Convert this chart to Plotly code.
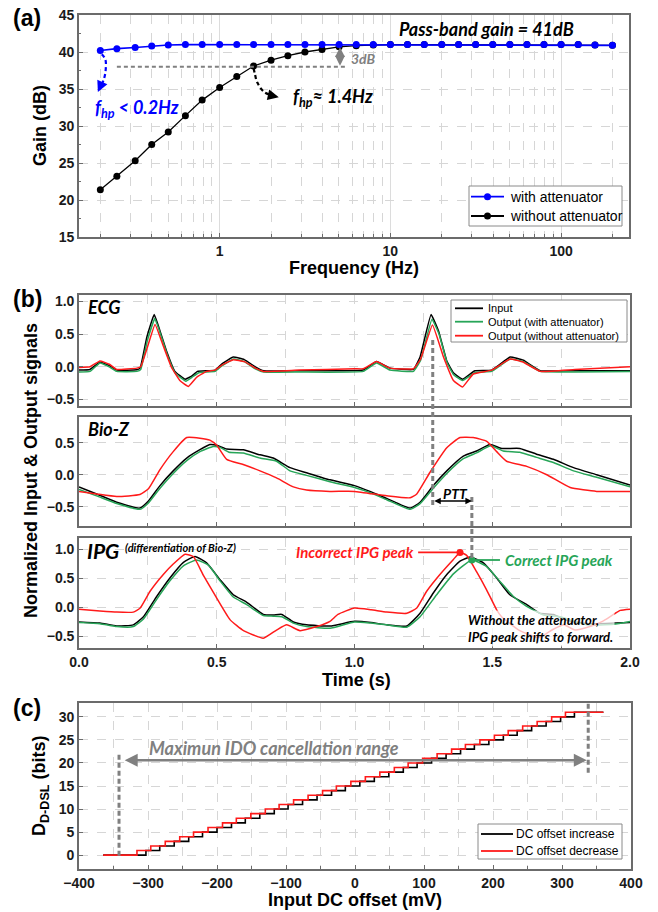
import math
import plotly.graph_objects as go

# ---------------- (a) frequency response ----------------
freq_hz = [0.2, 0.25, 0.32, 0.4, 0.5, 0.63, 0.79, 1, 1.26, 1.58, 2, 2.51, 3.16, 3.98,
           5.01, 6.31, 7.94, 10, 12.6, 15.8, 20, 25.1, 31.6, 39.8, 50.1, 63.1, 79.4,
           100, 126, 158, 200]
gain_with_att = [40.2, 40.45, 40.6, 40.8, 40.95, 41.0, 41.0, 41.0, 41.0, 41.0, 41.0,
                 41.0, 41.0, 41.0, 41.0, 41.0, 41.0, 41.0, 41.0, 41.0, 41.0, 41.0,
                 41.0, 41.0, 41.0, 41.0, 41.0, 41.0, 41.0, 40.95, 40.9]
gain_without_att = [21.4, 23.2, 25.3, 27.5, 29.2, 31.4, 33.5, 35.2, 36.7, 38.1, 38.9,
                    39.5, 40.0, 40.35, 40.7, 40.85, 40.95, 41.0, 41.0, 41.0, 41.0, 41.0,
                    41.0, 41.0, 41.0, 41.0, 41.0, 41.0, 41.0, 40.95, 40.9]
PASSBAND_GAIN = 41
DROP_DB = 3

# ---------------- (b) ECG / Bio-Z / IPG ----------------
ecg_in_t = [0.0, 0.04, 0.076, 0.11, 0.137, 0.21, 0.222, 0.246, 0.273, 0.294, 0.318, 0.348,
            0.385, 0.41, 0.43, 0.494, 0.52, 0.56, 0.60, 0.64, 0.67, 0.8, 0.95, 1.032, 1.08,
            1.129, 1.214, 1.238, 1.278, 1.305, 1.335, 1.359, 1.392, 1.437, 1.498, 1.565,
            1.613, 1.674, 1.8, 2.0]
ecg_in_v = [-0.05, -0.04, 0.07, 0.02, -0.05, -0.045, -0.02, 0.45, 0.80, 0.55, 0.24, -0.07,
            -0.19, -0.14, -0.07, -0.05, 0.05, 0.15, 0.11, 0.0, -0.06, -0.06, -0.06, -0.05,
            0.08, -0.02, -0.04, 0.15, 0.80, 0.55, 0.09, -0.09, -0.19, -0.06, -0.05, 0.15,
            0.10, -0.06, -0.06, -0.06]
ecg_att_t = [0.0, 0.04, 0.076, 0.11, 0.137, 0.21, 0.224, 0.248, 0.275, 0.296, 0.32, 0.35,
             0.388, 0.41, 0.435, 0.494, 0.52, 0.562, 0.60, 0.64, 0.67, 0.8, 1.032, 1.08,
             1.129, 1.214, 1.24, 1.281, 1.307, 1.337, 1.36, 1.392, 1.437, 1.498, 1.565,
             1.613, 1.674, 1.8, 2.0]
ecg_att_v = [-0.08, -0.07, 0.06, 0.0, -0.07, -0.07, -0.04, 0.40, 0.74, 0.50, 0.19, -0.10,
             -0.22, -0.16, -0.09, -0.07, 0.02, 0.12, 0.08, -0.03, -0.08, -0.08, -0.07, 0.06,
             -0.05, -0.07, 0.10, 0.73, 0.50, 0.05, -0.12, -0.21, -0.09, -0.07, 0.12, 0.08,
             -0.07, -0.08, -0.07]
ecg_noatt_t = [0.0, 0.04, 0.076, 0.11, 0.137, 0.21, 0.224, 0.246, 0.276, 0.306, 0.336,
               0.366, 0.397, 0.427, 0.463, 0.494, 0.52, 0.56, 0.60, 0.64, 0.67, 0.8, 1.0,
               1.032, 1.08, 1.129, 1.214, 1.24, 1.283, 1.323, 1.359, 1.392, 1.431, 1.498,
               1.565, 1.613, 1.674, 1.8, 2.0]
ecg_noatt_v = [-0.01, 0.0, 0.09, 0.04, -0.04, -0.02, 0.0, 0.27, 0.65, 0.32, -0.01, -0.21,
               -0.30, -0.16, -0.07, -0.05, 0.03, 0.11, 0.08, -0.02, -0.07, -0.05, -0.03,
               -0.03, 0.08, -0.02, -0.03, 0.12, 0.64, 0.15, -0.21, -0.31, -0.11, -0.05,
               0.12, 0.07, -0.07, -0.04, 0.0]

bioz_in_t = [0.0, 0.064, 0.137, 0.221, 0.252, 0.294, 0.342, 0.391, 0.439, 0.475, 0.5, 0.536,
             0.596, 0.657, 0.705, 0.766, 0.826, 0.911, 1.0, 1.056, 1.117, 1.202, 1.238,
             1.286, 1.335, 1.395, 1.443, 1.492, 1.534, 1.6, 1.661, 1.722, 1.795, 1.879, 2.0]
bioz_in_v = [-0.19, -0.30, -0.43, -0.52, -0.41, -0.17, 0.06, 0.26, 0.39, 0.47, 0.46, 0.40,
             0.39, 0.31, 0.26, 0.11, 0.03, -0.08, -0.17, -0.26, -0.37, -0.52, -0.43, -0.17,
             0.06, 0.29, 0.37, 0.47, 0.41, 0.41, 0.32, 0.24, 0.11, 0.0, -0.16]
bioz_att_t = [0.0, 0.064, 0.137, 0.221, 0.252, 0.294, 0.342, 0.391, 0.439, 0.487, 0.51, 0.545,
              0.596, 0.657, 0.717, 0.766, 0.826, 0.911, 1.0, 1.056, 1.117, 1.202, 1.238,
              1.286, 1.335, 1.395, 1.443, 1.495, 1.54, 1.6, 1.661, 1.722, 1.795, 1.879, 2.0]
bioz_att_v = [-0.23, -0.33, -0.45, -0.54, -0.44, -0.21, 0.02, 0.22, 0.36, 0.44, 0.43, 0.35,
              0.34, 0.26, 0.21, 0.06, -0.01, -0.11, -0.20, -0.28, -0.39, -0.54, -0.45, -0.21,
              0.02, 0.25, 0.34, 0.45, 0.37, 0.35, 0.27, 0.19, 0.06, -0.04, -0.19]
bioz_noatt_t = [0.0, 0.064, 0.137, 0.221, 0.252, 0.294, 0.342, 0.391, 0.439, 0.475, 0.5,
                0.536, 0.596, 0.657, 0.717, 0.778, 0.826, 0.911, 1.0, 1.117, 1.202, 1.226,
                1.273, 1.335, 1.383, 1.431, 1.48, 1.516, 1.552, 1.625, 1.698, 1.783, 1.879, 2.0]
bioz_noatt_v = [-0.26, -0.30, -0.34, -0.31, -0.22, 0.08, 0.36, 0.58, 0.57, 0.54, 0.46, 0.24,
                0.16, 0.06, -0.05, -0.19, -0.24, -0.26, -0.26, -0.33, -0.36, -0.30, 0.03,
                0.42, 0.58, 0.58, 0.52, 0.36, 0.21, 0.13, 0.0, -0.20, -0.26, -0.26]

ipg_in_t = [0.0, 0.076, 0.137, 0.197, 0.234, 0.282, 0.33, 0.379, 0.421, 0.463, 0.512, 0.56,
            0.609, 0.669, 0.705, 0.736, 0.778, 0.826, 0.911, 1.0, 1.06, 1.117, 1.19, 1.238,
            1.286, 1.335, 1.383, 1.42, 1.468, 1.516, 1.564, 1.625, 1.673, 1.722, 1.77, 1.85,
            2.0]
ipg_in_v = [-0.25, -0.27, -0.32, -0.30, -0.16, 0.19, 0.51, 0.78, 0.88, 0.77, 0.48, 0.22,
            0.09, -0.12, -0.13, -0.12, -0.25, -0.30, -0.32, -0.24, -0.26, -0.30, -0.32,
            -0.10, 0.25, 0.57, 0.80, 0.87, 0.77, 0.51, 0.22, 0.05, -0.10, -0.12, -0.22,
            -0.28, -0.26]
ipg_att_t = [0.0, 0.076, 0.137, 0.197, 0.234, 0.282, 0.33, 0.379, 0.427, 0.47, 0.512, 0.56,
             0.609, 0.669, 0.705, 0.736, 0.778, 0.826, 0.911, 1.0, 1.06, 1.117, 1.19, 1.238,
             1.298, 1.359, 1.426, 1.479, 1.528, 1.577, 1.625, 1.686, 1.746, 1.843, 1.94, 2.0]
ipg_att_v = [-0.26, -0.28, -0.33, -0.33, -0.20, 0.14, 0.46, 0.72, 0.82, 0.73, 0.46, 0.18,
             0.05, -0.14, -0.15, -0.16, -0.27, -0.33, -0.36, -0.25, -0.27, -0.30, -0.34,
             -0.16, 0.22, 0.58, 0.82, 0.71, 0.45, 0.19, 0.02, -0.13, -0.16, -0.30, -0.29,
             -0.24]
ipg_noatt_t = [0.0, 0.076, 0.137, 0.197, 0.222, 0.258, 0.306, 0.342, 0.385, 0.415, 0.451,
               0.5, 0.548, 0.597, 0.669, 0.717, 0.754, 0.802, 0.863, 0.911, 0.94, 1.0, 1.06,
               1.117, 1.19, 1.226, 1.262, 1.31, 1.359, 1.383, 1.407, 1.443, 1.479, 1.516,
               1.534, 1.6, 1.67, 1.72, 1.76, 1.8, 1.86, 1.9, 1.94, 1.965, 2.0]
ipg_noatt_v = [-0.03, -0.06, -0.08, -0.08, -0.01, 0.28, 0.57, 0.75, 0.92, 0.88, 0.56, 0.16,
               -0.21, -0.40, -0.53, -0.39, -0.30, -0.40, -0.33, -0.24, -0.12, -0.01, -0.04,
               -0.08, -0.10, -0.01, 0.28, 0.57, 0.83, 0.95, 0.90, 0.62, 0.31, -0.04, -0.16,
               -0.40, -0.52, -0.38, -0.30, -0.39, -0.32, -0.24, -0.12, -0.05, -0.03]

ecg_r_peak_t = 1.284      # ECG R-peak time used for the PTT marker
ipg_peak_t = 1.426        # corrected IPG peak time

# ---------------- (c) DC offset staircase ----------------
code_levels = [0, 1, 2, 3, 4, 5, 6, 7, 8, 9, 10, 11, 12, 13, 14, 15, 16, 17, 18, 19, 20,
               21, 22, 23, 24, 25, 26, 27, 28, 29, 30, 31]
steps_increase_mv = [-303, -283, -262, -241, -221, -200, -179, -159, -138, -117, -97, -76,
                     -55, -34, -14, 7, 28, 49, 70, 90, 111, 132, 153, 173, 194, 215, 235,
                     256, 277, 298, 318]
steps_decrease_mv = [-316, -296, -275, -254, -234, -213, -192, -172, -151, -130, -110, -89,
                     -68, -47, -27, -6, 15, 36, 57, 77, 98, 119, 140, 160, 181, 202, 222,
                     243, 264, 285, 305]
sweep_start_mv, sweep_end_mv = -365, 360
ido_range_mv = (-342, 338)

# ---------------- styling ----------------
W, H = 658, 912
BLUE, BLACK, GREEN, RED, GRAY = '#0000ff', '#000000', '#27a558', '#ff1a1a', '#808080'
FRAME = '#6b6b6b'
GRID = '#d6d6d6'
TICKFONT = dict(family='Liberation Sans', size=14, color='#1a1a1a', weight='bold')
ITAL = 'Lato'


def px(x):
    return x / W


def py(y):
    return 1 - y / H


def axis(**kw):
    d = dict(showline=True, mirror=True, linecolor=FRAME, linewidth=1.6, zeroline=False,
             ticks='inside', tickcolor=FRAME, ticklen=4, tickwidth=1.2, tickfont=TICKFONT,
             showgrid=True, gridcolor=GRID, griddash='dash', gridwidth=1, automargin=False)
    d.update(kw)
    return d


fig = go.Figure()

# (a)
fig.add_trace(go.Scatter(x=freq_hz, y=gain_without_att, mode='lines+markers',
                         name='without attenuator', line=dict(color=BLACK, width=1.3),
                         marker=dict(color=BLACK, size=7), xaxis='x', yaxis='y'))
fig.add_trace(go.Scatter(x=freq_hz, y=gain_with_att, mode='lines+markers',
                         name='with attenuator', line=dict(color=BLUE, width=1.6),
                         marker=dict(color=BLUE, size=7), xaxis='x', yaxis='y'))

cut_idx = 9
f_cut = freq_hz[cut_idx]
fig.add_trace(go.Scatter(x=[0.25, 5.5], y=[PASSBAND_GAIN - DROP_DB] * 2, mode='lines',
                         line=dict(color=GRAY, width=2, dash='4px,3px'),
                         xaxis='x', yaxis='y', hoverinfo='skip'))
# curved pointer arrows
fig.add_trace(go.Scatter(x=[0.204, 0.214, 0.215, 0.209, 0.196], y=[39.7, 39.0, 37.6, 36.2, 34.9],
                         mode='lines', line=dict(color=BLUE, width=2.2, dash='4px,3px', shape='spline'),
                         xaxis='x', yaxis='y', hoverinfo='skip'))
fig.add_trace(go.Scatter(x=[f_cut, 1.61, 1.66, 1.82, 2.15], y=[37.8, 37.0, 35.9, 34.6, 34.0],
                         mode='lines', line=dict(color=BLACK, width=2.2, dash='4px,3px', shape='spline'),
                         xaxis='x', yaxis='y', hoverinfo='skip'))

# (b)
panels_b = [
    ('x2', 'y2', 0.3, (ecg_in_t, ecg_in_v), (ecg_att_t, ecg_att_v), (ecg_noatt_t, ecg_noatt_v)),
    ('x3', 'y3', 0.45, (bioz_in_t, bioz_in_v), (bioz_att_t, bioz_att_v), (bioz_noatt_t, bioz_noatt_v)),
    ('x4', 'y4', 0.45, (ipg_in_t, ipg_in_v), (ipg_att_t, ipg_att_v), (ipg_noatt_t, ipg_noatt_v)),
]
names = ['Input', 'Output (with attenuator)', 'Output (without attenuator)']
colors = [BLACK, GREEN, RED]
for xa, ya, smooth, *series in panels_b:
    for j, (t, v) in enumerate(series):
        fig.add_trace(go.Scatter(x=t, y=v, mode='lines', name=names[j],
                                 line=dict(color=colors[j], width=1.5, shape='spline',
                                           smoothing=smooth),
                                 xaxis=xa, yaxis=ya, hoverinfo='skip'))

# IPG peak markers taken from the IPG series
sec = [i for i, t in enumerate(ipg_noatt_t) if t > 1.0]
i_red = max(sec, key=lambda i: ipg_noatt_v[i])
red_pk = (ipg_noatt_t[i_red], ipg_noatt_v[i_red])
sec = [i for i, t in enumerate(ipg_att_t) if t > 1.0]
i_grn = max(sec, key=lambda i: ipg_att_v[i])
grn_pk = (ipg_att_t[i_grn], ipg_att_v[i_grn])
fig.add_trace(go.Scatter(x=[1.231, red_pk[0]], y=[red_pk[1]] * 2, mode='lines',
                         line=dict(color=RED, width=1.8), xaxis='x4', yaxis='y4',
                         hoverinfo='skip'))
fig.add_trace(go.Scatter(x=[grn_pk[0], 1.528], y=[grn_pk[1]] * 2, mode='lines',
                         line=dict(color=GREEN, width=1.8), xaxis='x4', yaxis='y4',
                         hoverinfo='skip'))
fig.add_trace(go.Scatter(x=[red_pk[0]], y=[red_pk[1]], mode='markers',
                         marker=dict(color=RED, size=7), xaxis='x4', yaxis='y4',
                         hoverinfo='skip'))
fig.add_trace(go.Scatter(x=[grn_pk[0]], y=[grn_pk[1]], mode='markers',
                         marker=dict(color=GREEN, size=7), xaxis='x4', yaxis='y4',
                         hoverinfo='skip'))

# (c)
x_inc = [sweep_start_mv] + steps_increase_mv + [sweep_end_mv]
y_inc = code_levels + [code_levels[-1]]
x_dec = [sweep_start_mv] + steps_decrease_mv + [sweep_end_mv]
y_dec = code_levels + [code_levels[-1]]
fig.add_trace(go.Scatter(x=x_inc, y=y_inc, mode='lines', name='DC offset increase',
                         line=dict(color=BLACK, width=1.6, shape='hv'), xaxis='x5', yaxis='y5',
                         hoverinfo='skip'))
fig.add_trace(go.Scatter(x=x_dec, y=y_dec, mode='lines', name='DC offset decrease',
                         line=dict(color=RED, width=1.6, shape='hv'), xaxis='x5', yaxis='y5',
                         hoverinfo='skip'))

# ---------------- axes ----------------
xb = [px(79), px(630)]
minor_log = [0.2, 0.3, 0.4, 0.5, 0.6, 0.7, 0.8, 0.9, 2, 3, 4, 5, 6, 7, 8, 9,
             20, 30, 40, 50, 60, 70, 80, 90, 200]
layout_axes = dict(
    xaxis=axis(domain=[px(79), px(629)], anchor='y', type='log',
               range=[math.log10(0.15), math.log10(250)], tickvals=[1, 10, 100],
               ticktext=['1', '10', '100'], griddash='solid', gridcolor='#dcdcdc',
               minor=dict(tickvals=minor_log, showgrid=True, gridcolor=GRID, griddash='dash',
                          ticks='inside', ticklen=3, tickcolor=FRAME)),
    yaxis=axis(domain=[py(237), py(15)], anchor='x', range=[15, 45], dtick=5,
               minor=dict(dtick=2.5, ticks='inside', ticklen=2.5, tickcolor=FRAME, showgrid=False)),
    xaxis2=axis(domain=xb, anchor='y2', range=[0, 2], dtick=0.5, showticklabels=False,
                minor=dict(dtick=0.25, showgrid=True, gridcolor=GRID, griddash='dash',
                           ticks='inside', ticklen=3, tickcolor=FRAME)),
    yaxis2=axis(domain=[py(406), py(295)], anchor='x2', range=[-0.6, 1.1], dtick=0.5,
                tickformat='.1f'),
    xaxis3=axis(domain=xb, anchor='y3', range=[0, 2], dtick=0.5, showticklabels=False,
                minor=dict(dtick=0.25, showgrid=True, gridcolor=GRID, griddash='dash',
                           ticks='inside', ticklen=3, tickcolor=FRAME)),
    yaxis3=axis(domain=[py(526), py(417)], anchor='x3', range=[-0.8, 0.9], dtick=0.5,
                tickformat='.1f'),
    xaxis4=axis(domain=xb, anchor='y4', range=[0, 2], dtick=0.5, tickformat='.1f',
                minor=dict(dtick=0.25, showgrid=True, gridcolor=GRID, griddash='dash',
                           ticks='inside', ticklen=3, tickcolor=FRAME)),
    yaxis4=axis(domain=[py(648), py(538)], anchor='x4', range=[-0.7, 1.2], dtick=0.5,
                tickformat='.1f'),
    xaxis5=axis(domain=[px(79), px(631)], anchor='y5', range=[-400, 400], dtick=100,
                minor=dict(dtick=50, showgrid=True, gridcolor=GRID, griddash='dash',
                           ticks='inside', ticklen=3, tickcolor=FRAME)),
    yaxis5=axis(domain=[py(869), py(703)], anchor='x5', range=[-3, 33], dtick=5),
)

# ---------------- annotations & shapes ----------------
ann = []
shapes = []


def text(xp, yp, s, size, color=BLACK, bold=True, italic=False, family='Liberation Sans',
         angle=0, xanchor='center', **kw):
    f = dict(family=family, size=size, color=color)
    if bold:
        f['weight'] = 'bold'
    if italic:
        f['style'] = 'italic'
    d = dict(x=px(xp), y=py(yp), xref='paper', yref='paper', text=s, showarrow=False,
             font=f, textangle=angle, xanchor=xanchor, yanchor='middle')
    d.update(kw)
    ann.append(d)


def legend_box(x0, y0, x1, y1, rows, line_x0, line_x1, text_x, size, marker=False):
    """Framed key drawn with paper-space shapes; rows = (y, colour, label)."""
    shapes.append(dict(type='rect', xref='paper', yref='paper', x0=px(x0), x1=px(x1),
                       y0=py(y1), y1=py(y0), line=dict(color='#8a8a8a', width=1),
                       fillcolor='white', layer='above'))
    for yr, col, label in rows:
        shapes.append(dict(type='line', xref='paper', yref='paper', x0=px(line_x0),
                           x1=px(line_x1), y0=py(yr), y1=py(yr),
                           line=dict(color=col, width=1.8), layer='above'))
        if marker:
            xm = (line_x0 + line_x1) / 2
            shapes.append(dict(type='circle', xref='paper', yref='paper', x0=px(xm - 3.5),
                               x1=px(xm + 3.5), y0=py(yr + 3.5), y1=py(yr - 3.5),
                               fillcolor=col, line=dict(color=col, width=0), layer='above'))
        text(text_x, yr, label, size, bold=False, xanchor='left')


# panel tags
text(27, 18, '(a)', 23)
text(27, 299, '(b)', 23)
text(27, 708, '(c)', 23)
# axis titles
text(40, 126, 'Gain (dB)', 18, angle=-90)
text(354, 268, 'Frequency (Hz)', 18)
text(31, 471, 'Normalized Input &amp; Output signals', 18, angle=-90)
text(356, 680, 'Time (s)', 18)
text(40, 786, 'D<sub>D-DSL</sub> (bits)', 18, angle=-90)
text(355, 900, 'Input DC offset (mV)', 18)

# keys
legend_box(469, 186, 622, 226, [(196.7, BLUE, 'with attenuator'),
                                (216, BLACK, 'without attenuator')],
           471, 504, 508, 14, marker=True)
legend_box(451, 300, 627, 342, [(308.3, BLACK, names[0]), (321.7, GREEN, names[1]),
                                (335.7, RED, names[2])],
           455, 483, 486, 11)
legend_box(478, 824, 622, 859, [(834, BLACK, 'DC offset increase'),
                                (851, RED, 'DC offset decrease')],
           481, 513, 514, 12)

# (a) call-outs
text(487, 29, f'Pass-band gain = {PASSBAND_GAIN}dB', 18, family=ITAL, italic=True)
text(137, 108, '<i>f</i><sub>hp</sub> &lt; 0.2Hz', 18, color=BLUE, family=ITAL, italic=True)
text(333, 98, '<i>f</i><sub>hp</sub>≈ 1.4Hz', 18, family=ITAL, italic=True)
text(349, 58, f'{DROP_DB}dB', 14, color=GRAY, family=ITAL, italic=True, xanchor='left')
x3db = math.log10(5.07)
ann.append(dict(x=x3db, y=PASSBAND_GAIN - DROP_DB + 0.15, ax=x3db, ay=PASSBAND_GAIN - 0.15,
                xref='x', yref='y', axref='x', ayref='y', text='', showarrow=True,
                arrowside='end+start', arrowhead=2, arrowsize=0.9, arrowwidth=2.2,
                arrowcolor=GRAY))
ann.append(dict(x=math.log10(0.1935), y=34.6, ax=4, ay=-9, xref='x', yref='y', text='',
                showarrow=True, arrowhead=2, arrowsize=1, arrowwidth=2.2, arrowcolor=BLUE))
ann.append(dict(x=math.log10(2.22), y=33.9, ax=-9, ay=-2, xref='x', yref='y', text='',
                showarrow=True, arrowhead=2, arrowsize=1, arrowwidth=2.2, arrowcolor=BLACK))

# (b) labels
text(86, 307, 'ECG', 18, family=ITAL, italic=True, xanchor='left')
text(86, 429, 'Bio-Z', 18, family=ITAL, italic=True, xanchor='left')
text(85, 550, 'IPG', 21, family=ITAL, italic=True, xanchor='left')
text(123, 547, '(differentiation of Bio-Z)', 11, family=ITAL, italic=True, xanchor='left')
text(455, 493, 'PTT', 14, family=ITAL, italic=True)
ann.append(dict(x=ipg_peak_t, y=-0.41, ax=ecg_r_peak_t, ay=-0.41, xref='x3', yref='y3',
                axref='x3', ayref='y3', text='', showarrow=True, arrowside='end+start',
                arrowhead=2, arrowsize=1, arrowwidth=1.3, arrowcolor=BLACK))
ann.append(dict(x=1.223, y=red_pk[1], xref='x4', yref='y4', text='Incorrect IPG peak',
                showarrow=False, xanchor='right', yanchor='middle',
                font=dict(family=ITAL, size=15, color=RED, weight='bold', style='italic')))
ann.append(dict(x=1.54, y=grn_pk[1], xref='x4', yref='y4', text='Correct IPG peak',
                showarrow=False, xanchor='left', yanchor='middle',
                font=dict(family=ITAL, size=15, color=GREEN, weight='bold', style='italic')))
ann.append(dict(x=px(540), y=py(628), xref='paper', yref='paper',
                text='Without the attenuator,<br>IPG peak shifts to forward.',
                showarrow=False, xanchor='center', yanchor='middle', align='left',
                bgcolor='rgba(255,255,255,0.72)', borderpad=1,
                font=dict(family=ITAL, size=13, color=BLACK, weight='bold', style='italic')))

# (c) range arrow
ann.append(dict(x=ido_range_mv[1] - 2, y=20.6, ax=ido_range_mv[0] + 6, ay=20.6, xref='x5',
                yref='y5', axref='x5', ayref='y5', text='', showarrow=True,
                arrowside='end+start', arrowhead=2, arrowsize=1, arrowwidth=2.6,
                arrowcolor=GRAY))
text(274, 748, 'Maximun IDO cancellation range', 18, color=GRAY, family=ITAL, italic=True)

DASH = dict(color=GRAY, width=3, dash='5px,3px')
shapes += [
    dict(type='line', xref='x2', yref='paper', x0=ecg_r_peak_t, x1=ecg_r_peak_t,
         y0=py(340), y1=py(505), line=DASH),
    dict(type='line', xref='x4', yref='paper', x0=ipg_peak_t, x1=ipg_peak_t,
         y0=py(497), y1=py(560), line=DASH),
    dict(type='line', xref='x5', yref='y5', x0=ido_range_mv[0], x1=ido_range_mv[0],
         y0=-0.1, y1=22.4, line=DASH),
    dict(type='line', xref='x5', yref='y5', x0=ido_range_mv[1], x1=ido_range_mv[1],
         y0=17.9, y1=33, line=DASH),
]

fig.update_layout(
    width=W, height=H, autosize=False, margin=dict(l=0, r=0, t=0, b=0, pad=0),
    showlegend=False, plot_bgcolor='white', paper_bgcolor='white',
    font=dict(family='Liberation Sans', color=BLACK),
    annotations=ann, shapes=shapes, **layout_axes)

fig.write_html('out.html',
               post_script="document.body.style.margin='0';"
                           "document.body.style.overflow='hidden';")
